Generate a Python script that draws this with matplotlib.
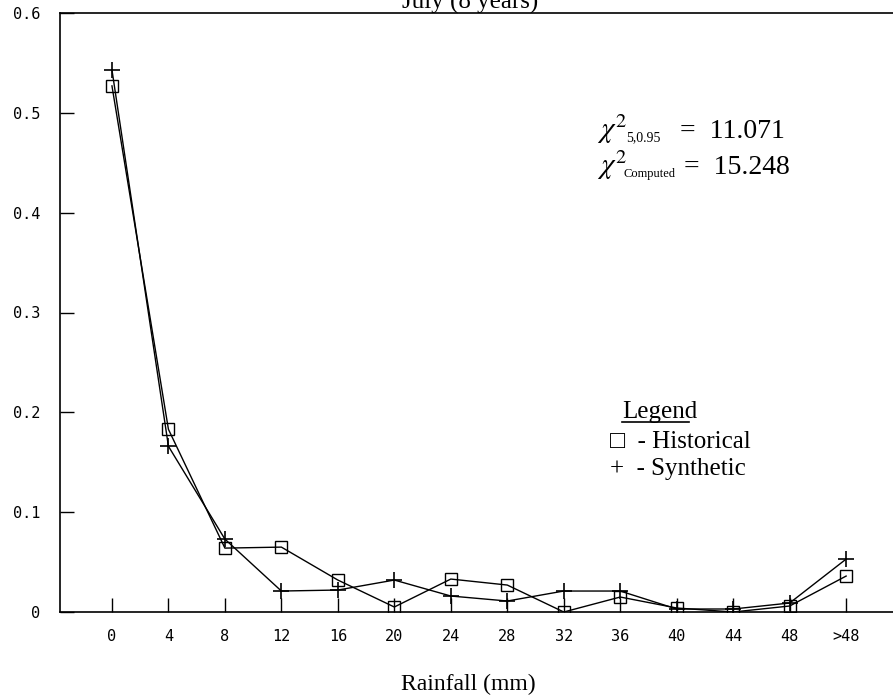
import numpy as np
import matplotlib.pyplot as plt

plt.rcParams['mathtext.fontset'] = 'stix'

# data
categories = ['0', '4', '8', '12', '16', '20', '24', '28', '32', '36', '40', '44', '48', '>48']
historical = [0.527, 0.183, 0.064, 0.065, 0.032, 0.005, 0.033, 0.027, 0.0, 0.015, 0.004, 0.0, 0.006, 0.036]
synthetic = [0.543, 0.166, 0.073, 0.021, 0.022, 0.032, 0.016, 0.011, 0.021, 0.021, 0.003, 0.003, 0.009, 0.053]
y_ticks = [0, 0.1, 0.2, 0.3, 0.4, 0.5, 0.6]
y_labels = ['0', '0.1', '0.2', '0.3', '0.4', '0.5', '0.6']

serif = 'Liberation Serif'
tick_font = 'DejaVu Sans Mono'
W, H = 893, 700

fig = plt.figure(figsize=(W / 100, H / 100), dpi=100)
ax = fig.add_axes([60 / W, 1 - 612 / H, (W - 60) / W, (612 - 13) / H])

x = np.arange(len(categories))
ax.plot(x, historical, color='black', lw=1.0, marker='s', ms=9, mfc='none', mec='black', mew=1.0)
ax.plot(x, synthetic, color='black', lw=1.0, marker='+', ms=11, mew=1.2)

ax.set_xlim(-0.92, 13.83)
ax.set_ylim(0, 0.6)
ax.set_xticks(x)
ax.set_xticklabels(categories, fontsize=11, family=tick_font)
ax.set_yticks(y_ticks)
ax.set_yticklabels(y_labels, fontsize=11, family=tick_font)
ax.tick_params(axis='both', direction='in', length=10, width=1, color='black')
ax.tick_params(axis='x', pad=12)
ax.tick_params(axis='y', pad=14)
ax.spines['right'].set_visible(False)
for s in ['top', 'left', 'bottom']:
    ax.spines[s].set_linewidth(1.2)

# title cut off at the top edge, as in the scan
fig.text(470 / W, 1 - 9 / H, 'July (8 years)', family=serif, fontsize=18,
         ha='center', va='baseline')
fig.text(468 / W, 1 - 690 / H, 'Rainfall (mm)', family=serif, fontsize=17,
         ha='center', va='baseline')

# chi-square annotation
def px(xp, yp):
    return xp / W, 1 - yp / H

fig.text(*px(597, 138), r'$\chi^{2}$', fontsize=21, va='baseline')
fig.text(*px(626, 141), '5,0.95', family=serif, fontsize=10, va='baseline')
fig.text(*px(680, 138), '=  11.071', family=serif, fontsize=20, va='baseline')
fig.text(*px(597, 174), r'$\chi^{2}$', fontsize=21, va='baseline')
fig.text(*px(624, 177), 'Computed', family=serif, fontsize=9, va='baseline')
fig.text(*px(684, 174), '=  15.248', family=serif, fontsize=20, va='baseline')

# legend drawn as text
fig.text(*px(622, 418), 'Legend', family=serif, fontsize=18, va='baseline')
fig.add_artist(plt.Line2D([622 / W, 689 / W], [1 - 422 / H, 1 - 422 / H], color='black', lw=1.2))
fig.text(*px(610, 448), '\u25a1  - Historical', family=serif, fontsize=18, va='baseline')
fig.text(*px(610, 475), '+  - Synthetic', family=serif, fontsize=18, va='baseline')

fig.savefig('out.png', dpi=100)
